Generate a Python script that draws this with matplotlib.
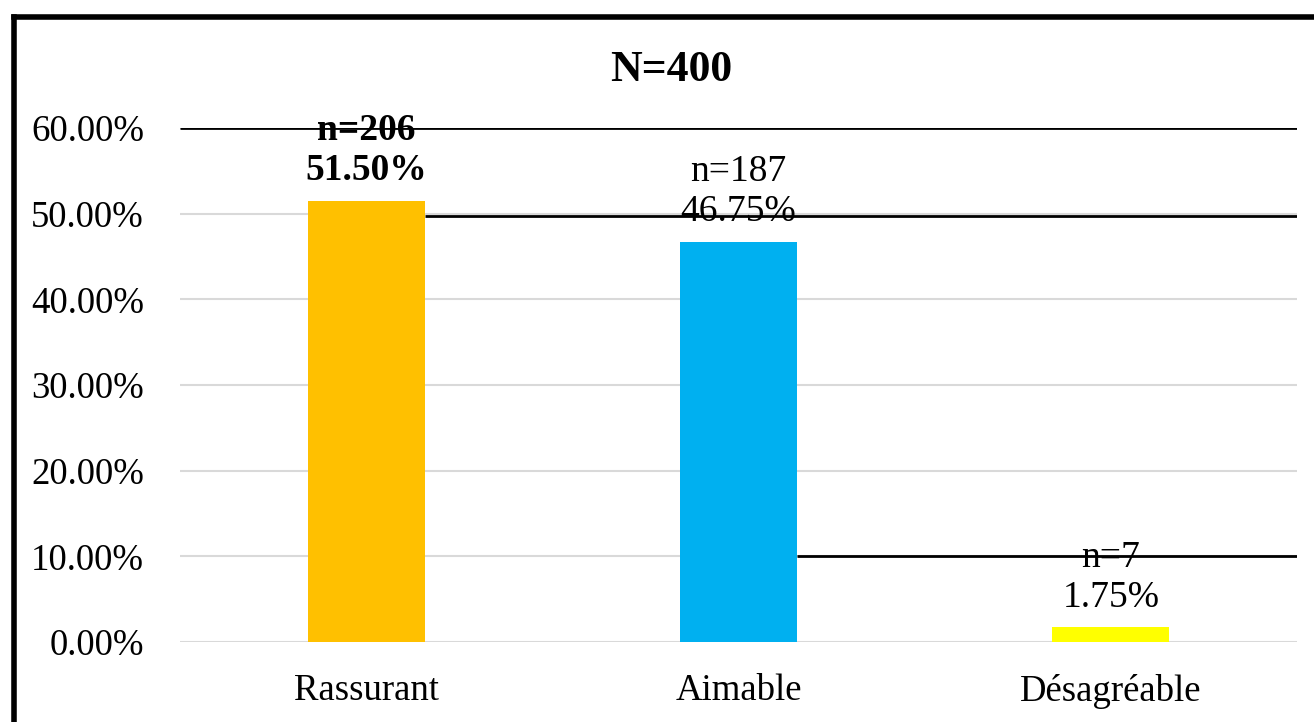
import matplotlib.pyplot as plt
from matplotlib.lines import Line2D
from matplotlib.ticker import FuncFormatter

plt.rcParams['font.family'] = ['Liberation Serif', 'DejaVu Serif']

categories = ["Rassurant", "Aimable", "Désagréable"]
counts = [206, 187, 7]
percents = [51.50, 46.75, 1.75]
colors = ["#FFC000", "#00B0F0", "#FFFF00"]
total = 400

fig = plt.figure(figsize=(13.14, 7.22), dpi=100)
ax = fig.add_axes([0.137, 0.1108, 0.850, 0.7119])

x = range(len(categories))
bars = ax.bar(x, percents, width=0.314, color=colors, zorder=2)

ax.set_xlim(-0.5, len(categories) - 0.5)
ax.set_ylim(0, 60)
ax.set_yticks(range(0, 61, 10))
ax.yaxis.set_major_formatter(FuncFormatter(lambda v, p: f"{v:.2f}%"))
ax.set_xticks(list(x))
ax.set_xticklabels(categories)
ax.tick_params(axis='both', length=0, labelsize=26.5)
ax.tick_params(axis='y', pad=26)
ax.tick_params(axis='x', pad=23)
ax.grid(axis='y', color='#d9d9d9', linewidth=1.5, zorder=0)
for s in ax.spines.values():
    s.set_visible(False)

# black leader lines running right from the bars
ax.hlines(60, -0.5, len(categories) - 0.5, color='black', linewidth=2, zorder=3)
ax.hlines(49.75, 0 + 0.157, len(categories) - 0.5, color='black', linewidth=2, zorder=3)
ax.hlines(10, 1 + 0.157, len(categories) - 0.5, color='black', linewidth=2, zorder=3)

for i, (n, p) in enumerate(zip(counts, percents)):
    weight = 'bold' if i == 0 else 'normal'
    ax.annotate(f"n={n}\n{p:.2f}%", (i, p), xytext=(0, 9), textcoords='offset points',
                ha='center', va='bottom', fontsize=27, fontweight=weight,
                linespacing=1.2, zorder=4)

fig.text(671 / 1314, 1 - 70 / 722, f"N={total}", ha='center', va='center',
         fontsize=31.5, fontweight='bold')

# frame around the chart (top and left edges)
fig.add_artist(Line2D([13.5 / 1314, 1], [1 - 16.5 / 722, 1 - 16.5 / 722],
                      transform=fig.transFigure, color='black', linewidth=4))
fig.add_artist(Line2D([13.5 / 1314, 13.5 / 1314], [0, 1 - 16.5 / 722],
                      transform=fig.transFigure, color='black', linewidth=4))

fig.savefig("out.png", dpi=100)
